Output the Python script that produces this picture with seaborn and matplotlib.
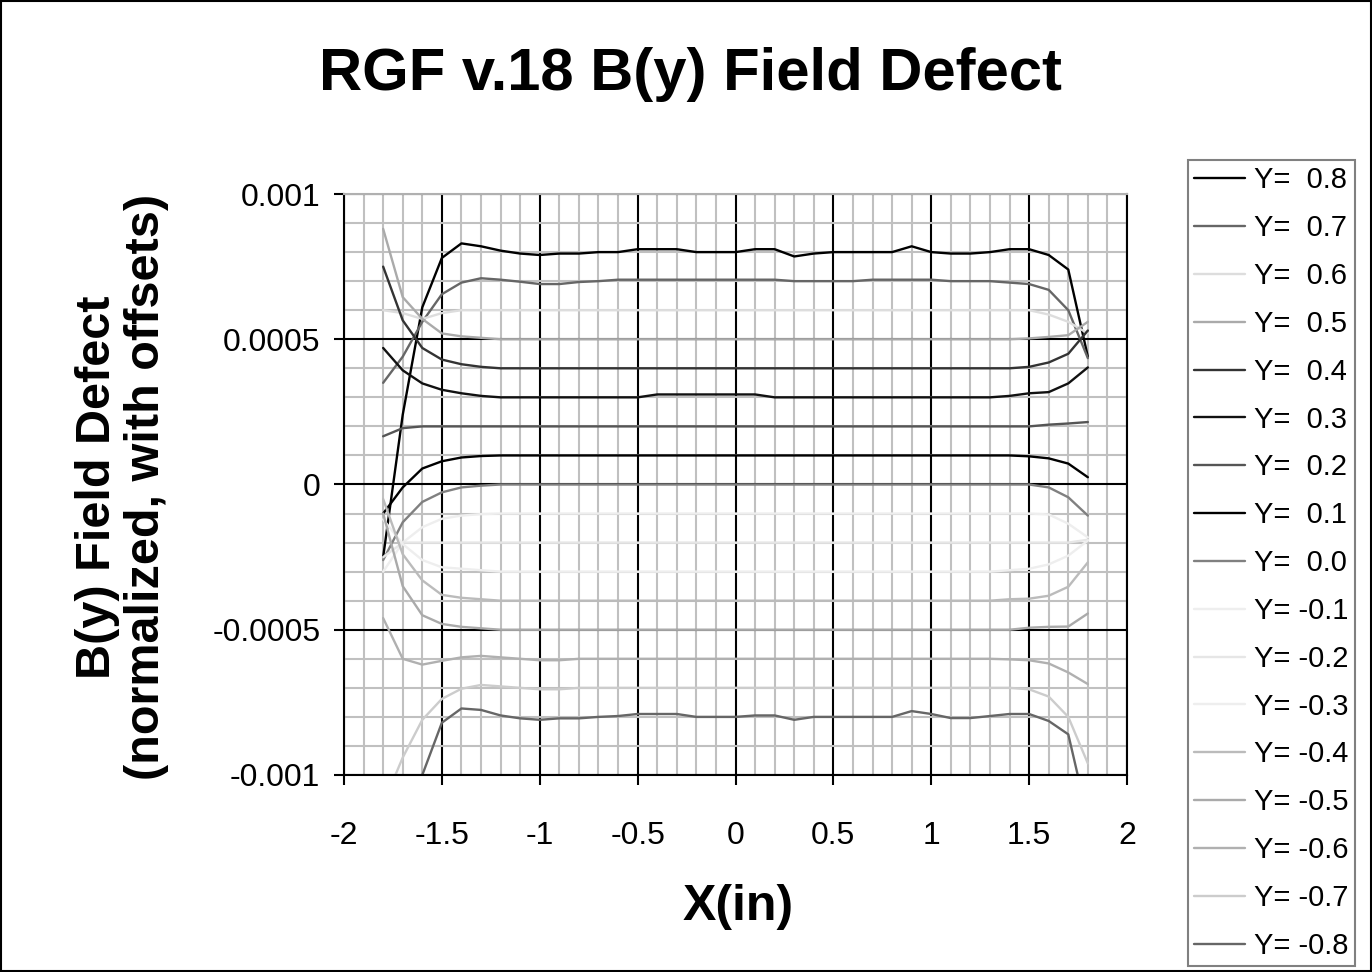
import numpy as np
import pandas as pd
import matplotlib
matplotlib.use("Agg")
import matplotlib.pyplot as plt
import seaborn as sns
from matplotlib.lines import Line2D
from matplotlib.patches import Rectangle
from matplotlib.ticker import MultipleLocator

# x positions of the measurement (in)
x_in = [-1.8, -1.7, -1.6, -1.5, -1.4, -1.3, -1.2, -1.1, -1.0, -0.9, -0.8, -0.7, -0.6,
        -0.5, -0.4, -0.3, -0.2, -0.1, 0.0, 0.1, 0.2, 0.3, 0.4, 0.5, 0.6, 0.7, 0.8,
        0.9, 1.0, 1.1, 1.2, 1.3, 1.4, 1.5, 1.6, 1.7, 1.8]

series_labels = ["Y=  0.8", "Y=  0.7", "Y=  0.6", "Y=  0.5", "Y=  0.4", "Y=  0.3",
                 "Y=  0.2", "Y=  0.1", "Y=  0.0", "Y= -0.1", "Y= -0.2", "Y= -0.3",
                 "Y= -0.4", "Y= -0.5", "Y= -0.6", "Y= -0.7", "Y= -0.8"]

series_colors = ["#000000", "#666666", "#dddddd", "#aaaaaa", "#333333", "#111111",
                 "#555555", "#000000", "#808080", "#eeeeee", "#e6e6e6", "#eeeeee",
                 "#bbbbbb", "#aaaaaa", "#b0b0b0", "#cccccc", "#666666"]

# field defect with offsets, in units of 1e-4
y_p08 = [-2.5, 2.4, 6.1, 7.8, 8.3, 8.2, 8.05, 7.95, 7.9, 7.95, 7.95, 8.0, 8.0, 8.1, 8.1, 8.1,
         8.0, 8.0, 8.0, 8.1, 8.1, 7.85, 7.95, 8.0, 8.0, 8.0, 8.0, 8.2, 8.0, 7.95, 7.95, 8.0,
         8.1, 8.1, 7.9, 7.4, 4.4]
y_p07 = [3.5, 4.4, 5.6, 6.55, 6.95, 7.1, 7.05, 6.98, 6.9, 6.9, 6.97, 7.0, 7.05, 7.05, 7.05,
         7.05, 7.05, 7.05, 7.05, 7.05, 7.05, 7.0, 7.0, 7.0, 7.0, 7.05, 7.05, 7.05, 7.05, 7.0,
         7.0, 7.0, 6.95, 6.9, 6.7, 6.0, 4.35]
y_p06 = [6.0, 5.9, 5.7, 5.9, 6.0, 6.0, 6.0, 6.0, 6.0, 6.0, 6.0, 6.0, 6.0, 6.0, 6.0, 6.0,
         6.0, 6.0, 6.0, 6.0, 6.0, 6.0, 6.0, 6.0, 6.0, 6.0, 6.0, 6.0, 6.0, 6.0, 6.0, 6.0,
         6.0, 6.0, 5.85, 5.6, 5.2]
y_p05 = [8.8, 6.45, 5.7, 5.2, 5.1, 5.05, 5.0, 5.0, 5.0, 5.0, 5.0, 5.0, 5.0, 5.0, 5.0, 5.0,
         5.0, 5.0, 5.0, 5.0, 5.0, 5.0, 5.0, 5.0, 5.0, 5.0, 5.0, 5.0, 5.0, 5.0, 5.0, 5.0,
         5.0, 5.03, 5.08, 5.14, 5.6]
y_p04 = [7.5, 5.65, 4.7, 4.3, 4.14, 4.05, 4.0, 4.0, 4.0, 4.0, 4.0, 4.0, 4.0, 4.0, 4.0, 4.0,
         4.0, 4.0, 4.0, 4.0, 4.0, 4.0, 4.0, 4.0, 4.0, 4.0, 4.0, 4.0, 4.0, 4.0, 4.0, 4.0,
         4.0, 4.05, 4.2, 4.5, 5.3]
y_p03 = [4.7, 3.93, 3.48, 3.26, 3.14, 3.05, 3.0, 3.0, 3.0, 3.0, 3.0, 3.0, 3.0, 3.0, 3.1, 3.1,
         3.1, 3.1, 3.1, 3.1, 3.0, 3.0, 3.0, 3.0, 3.0, 3.0, 3.0, 3.0, 3.0, 3.0, 3.0, 3.0,
         3.05, 3.14, 3.18, 3.48, 4.03]
y_p02 = [1.66, 1.94, 2.0, 2.0, 2.0, 2.0, 2.0, 2.0, 2.0, 2.0, 2.0, 2.0, 2.0, 2.0, 2.0, 2.0,
         2.0, 2.0, 2.0, 2.0, 2.0, 2.0, 2.0, 2.0, 2.0, 2.0, 2.0, 2.0, 2.0, 2.0, 2.0, 2.0,
         2.0, 2.0, 2.06, 2.1, 2.15]
y_p01 = [-1.0, -0.1, 0.55, 0.8, 0.93, 0.98, 1.0, 1.0, 1.0, 1.0, 1.0, 1.0, 1.0, 1.0, 1.0, 1.0,
         1.0, 1.0, 1.0, 1.0, 1.0, 1.0, 1.0, 1.0, 1.0, 1.0, 1.0, 1.0, 1.0, 1.0, 1.0, 1.0,
         1.0, 0.97, 0.9, 0.72, 0.25]
y_000 = [-2.6, -1.3, -0.6, -0.27, -0.1, -0.04, 0.0, 0.0, 0.0, 0.0, 0.0, 0.0, 0.0, 0.0, 0.0,
         0.0, 0.0, 0.0, 0.0, 0.0, 0.0, 0.0, 0.0, 0.0, 0.0, 0.0, 0.0, 0.0, 0.0, 0.0, 0.0,
         0.0, 0.0, 0.0, -0.1, -0.44, -1.07]
y_m01 = [-3.0, -2.0, -1.47, -1.18, -1.07, -1.02, -1.0, -1.0, -1.0, -1.0, -1.0, -1.0, -1.0,
         -1.0, -1.0, -1.0, -1.0, -1.0, -1.0, -1.0, -1.0, -1.0, -1.0, -1.0, -1.0, -1.0, -1.0,
         -1.0, -1.0, -1.0, -1.0, -1.0, -1.0, -1.0, -1.03, -1.35, -1.82]
y_m02 = [-2.5, -2.0, -2.0, -2.0, -2.0, -2.0, -2.0, -2.0, -2.0, -2.0, -2.0, -2.0, -2.0, -2.0,
         -2.0, -2.0, -2.0, -2.0, -2.0, -2.0, -2.0, -2.0, -2.0, -2.0, -2.0, -2.0, -2.0, -2.0,
         -2.0, -2.0, -2.0, -2.0, -2.0, -2.0, -2.0, -2.0, -1.9]
y_m03 = [-1.2, -2.05, -2.6, -2.85, -2.9, -2.95, -3.0, -3.0, -3.0, -3.0, -3.0, -3.0, -3.0,
         -3.0, -3.0, -3.0, -3.0, -3.0, -3.0, -3.0, -3.0, -3.0, -3.0, -3.0, -3.0, -3.0, -3.0,
         -3.0, -3.0, -3.0, -3.0, -3.0, -2.95, -2.9, -2.75, -2.45, -1.93]
y_m04 = [-0.5, -2.4, -3.3, -3.8, -3.9, -3.95, -4.0, -4.0, -4.0, -4.0, -4.0, -4.0, -4.0,
         -4.0, -4.0, -4.0, -4.0, -4.0, -4.0, -4.0, -4.0, -4.0, -4.0, -4.0, -4.0, -4.0, -4.0,
         -4.0, -4.0, -4.0, -4.0, -4.0, -3.95, -3.93, -3.83, -3.52, -2.68]
y_m05 = [-1.0, -3.5, -4.5, -4.8, -4.9, -4.95, -5.0, -5.0, -5.0, -5.0, -5.0, -5.0, -5.0,
         -5.0, -5.0, -5.0, -5.0, -5.0, -5.0, -5.0, -5.0, -5.0, -5.0, -5.0, -5.0, -5.0, -5.0,
         -5.0, -5.0, -5.0, -5.0, -5.0, -5.0, -4.93, -4.9, -4.89, -4.44]
y_m06 = [-4.6, -6.0, -6.2, -6.07, -5.95, -5.9, -5.95, -6.0, -6.05, -6.05, -6.0, -6.0, -6.0,
         -6.0, -6.0, -6.0, -6.0, -6.0, -6.0, -6.0, -6.0, -6.0, -6.0, -6.0, -6.0, -6.0, -6.0,
         -6.0, -6.0, -6.0, -6.0, -6.0, -6.02, -6.05, -6.16, -6.47, -6.87]
y_m07 = [-11.0, -9.4, -8.1, -7.38, -7.03, -6.9, -6.95, -7.0, -7.05, -7.05, -7.0, -7.0, -7.0,
         -7.0, -7.0, -7.0, -7.0, -7.0, -7.0, -7.0, -7.0, -7.0, -7.0, -7.0, -7.0, -7.0, -7.0,
         -7.0, -7.0, -7.0, -7.0, -7.0, -7.0, -7.05, -7.3, -8.0, -9.6]
y_m08 = [-15.0, -13.0, -10.0, -8.2, -7.71, -7.76, -7.95, -8.05, -8.1, -8.05, -8.05, -8.0,
         -7.97, -7.9, -7.9, -7.9, -8.0, -8.0, -8.0, -7.95, -7.95, -8.1, -8.0, -8.0, -8.0,
         -8.0, -8.0, -7.8, -7.9, -8.04, -8.04, -7.97, -7.9, -7.9, -8.14, -8.6, -11.5]

all_series = [y_p08, y_p07, y_p06, y_p05, y_p04, y_p03, y_p02, y_p01, y_000,
              y_m01, y_m02, y_m03, y_m04, y_m05, y_m06, y_m07, y_m08]

x_ticks = [-2, -1.5, -1, -0.5, 0, 0.5, 1, 1.5, 2]
x_tick_labels = ["-2", "-1.5", "-1", "-0.5", "0", "0.5", "1", "1.5", "2"]
y_ticks = [-0.001, -0.0005, 0, 0.0005, 0.001]
y_tick_labels = ["-0.001", "-0.0005", "0", "0.0005", "0.001"]

frames = []
for lab, vals in zip(series_labels, all_series):
    frames.append(pd.DataFrame({"X": x_in, "B": np.array(vals) * 1e-4, "series": lab}))
df = pd.concat(frames, ignore_index=True)

sns.set_style("white")
plt.rcParams["font.family"] = ["Liberation Sans", "DejaVu Sans"]
plt.rcParams["text.color"] = "black"
plt.rcParams["xtick.color"] = "black"
plt.rcParams["ytick.color"] = "black"

fig = plt.figure(figsize=(13.72, 9.72), dpi=100)
ax = fig.add_axes([344 / 1372, 1 - 775 / 972, (1127 - 344) / 1372, (775 - 194) / 972])

palette = dict(zip(series_labels, series_colors))
sns.lineplot(data=df, x="X", y="B", hue="series", hue_order=series_labels,
             palette=palette, estimator=None, sort=False, lw=1.7,
             legend=False, ax=ax)

ax.set_xlim(-2, 2)
ax.set_ylim(-0.001, 0.001)
ax.set_xticks(x_ticks)
ax.set_xticklabels(x_tick_labels)
ax.set_yticks(y_ticks)
ax.set_yticklabels(y_tick_labels)
ax.xaxis.set_minor_locator(MultipleLocator(0.1))
ax.yaxis.set_minor_locator(MultipleLocator(0.0001))
ax.set_axisbelow(True)
ax.grid(which="minor", color="#c0c0c0", lw=1.5)
ax.grid(which="major", color="#000000", lw=1.5)
ax.tick_params(which="major", direction="out", length=7, width=1.5, color="black",
               labelcolor="black", labelsize=23, bottom=True, left=True)
ax.tick_params(axis="x", pad=26)
ax.tick_params(axis="y", pad=10)
ax.tick_params(which="minor", length=0)
ax.set_xlabel("")
ax.set_ylabel("")
for side in ["left", "bottom", "right"]:
    ax.spines[side].set_color("black")
    ax.spines[side].set_linewidth(1.5)
ax.spines["top"].set_color("#b0b0b0")
ax.spines["top"].set_linewidth(1.5)

fig.text(0.503, 1 - 75 / 972, "RGF v.18 B(y) Field Defect", ha="center", va="center",
         fontsize=43, fontweight="bold", color="black")
fig.text(738 / 1372, 1 - 907 / 972, "X(in)", ha="center", va="center",
         fontsize=36, fontweight="bold", color="black")
fig.text(122 / 1372, 1 - 487 / 972, "B(y) Field Defect\n(normalized, with offsets)",
         ha="center", va="center", rotation=90, fontsize=35, fontweight="bold",
         linespacing=1.12, color="black")

handles = [Line2D([0], [0], color=c, lw=1.7) for c in series_colors]
leg = fig.legend(handles, series_labels, loc="upper left",
                 bbox_to_anchor=(1188 / 1372, 1 - 160 / 972), fontsize=21,
                 frameon=True, fancybox=False, edgecolor="#808080", framealpha=1,
                 handlelength=1.75, handletextpad=0.3, labelspacing=0.68,
                 borderpad=0.22, borderaxespad=0, labelcolor="black")
leg.get_frame().set_linewidth(1.5)

fig.patches.append(Rectangle((0.001, 0.001), 0.998, 0.998, transform=fig.transFigure,
                             fill=False, edgecolor="black", lw=1.5))

fig.savefig("out.png", dpi=100)
